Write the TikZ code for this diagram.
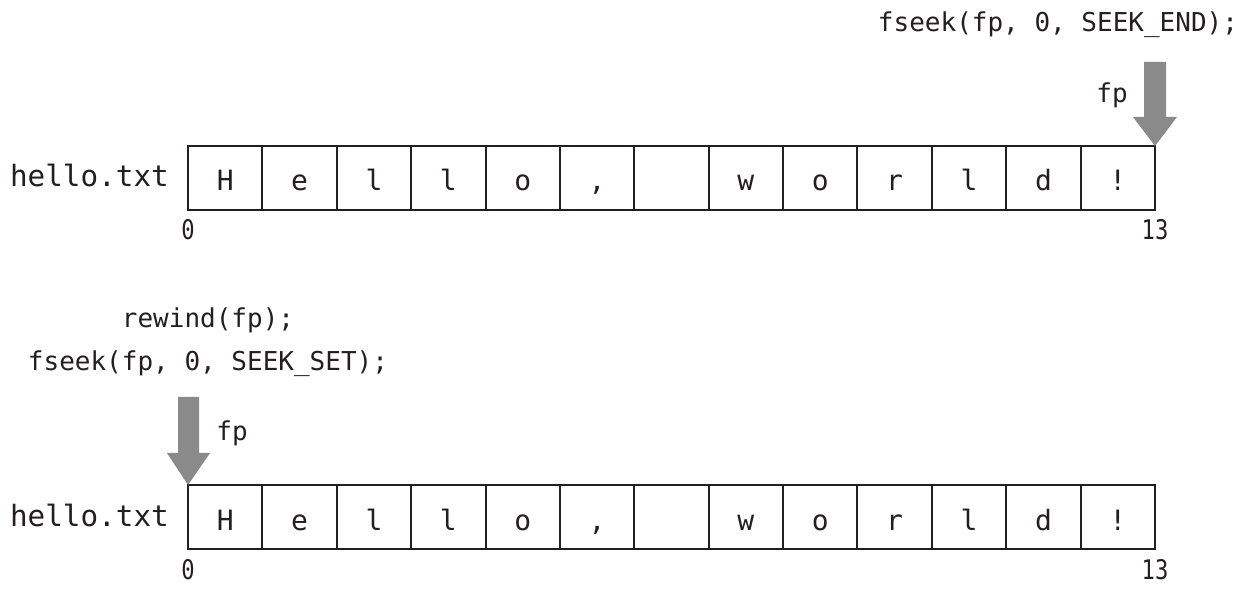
\documentclass[tikz,border=0pt]{standalone}
\usepackage{fontspec}
\setmonofont{DejaVu Sans Mono}
\newfontfamily\idxfont[FakeStretch=0.82]{DejaVu Sans Mono}
\usetikzlibrary{calc}
\definecolor{ink}{HTML}{231F20}
\definecolor{arrowgray}{HTML}{8A8A8A}
\tikzset{
  cell/.style={draw=ink, line width=2pt, minimum width=74.4pt, minimum height=64pt, inner sep=0pt, outer sep=0pt, anchor=north west},
  celltext/.style={font=\ttfamily\fontsize{28}{30}\selectfont, text=ink, anchor=base, inner sep=0pt},
  code/.style={font=\ttfamily\fontsize{26}{28}\selectfont, text=ink, anchor=base, inner sep=0pt},
  fname/.style={font=\ttfamily\fontsize{29.3}{31}\selectfont, text=ink, anchor=base east, inner sep=0pt},
  idx/.style={font=\idxfont\fontsize{27}{29}\selectfont, text=ink, anchor=base, inner sep=0pt},
  ptr/.style={fill=arrowgray, draw=none},
}
\begin{document}
\begin{tikzpicture}[x=1pt,y=-1pt]
\useasboundingbox (0,0) rectangle (1259,593);
% rows of cells
\foreach \r/\top in {1/146, 2/485} {
  \foreach \ch [count=\i] in {H,e,l,l,o,{,},{},w,o,r,l,d,!} {
    \node[cell] (r\r c\i) at ({188+(\i-1)*74.385},\top) {};
    \node[celltext] (t\r c\i) at ($(r\r c\i.center)+(0,13)$) {\ch};
  }
  \node[fname] (f\r) at ($(r\r c1.west)+(-19,9)$) {hello.txt};
  \node[idx] (z\r) at ($(r\r c1.south west)+(0,30)$) {0};
  \node[idx] (e\r) at ($(r\r c13.south east)+(0,30)$) {13};
}
% top: SEEK_END
\node[code] (seekend) at (1058,32) {fseek(fp, 0, SEEK\_END);};
\node[code] (fp1) at (1112,103) {fp};
\fill[ptr] (1144,62) -- (1166,62) -- (1166,117) -- (1177,117) -- (r1c13.north east) -- (1133,117) -- (1144,117) -- cycle;
% bottom: SEEK_SET
\node[code] (rew) at (208,328) {rewind(fp);};
\node[code] (seekset) at (208,371) {fseek(fp, 0, SEEK\_SET);};
\node[code] (fp2) at (232,441) {fp};
\fill[ptr] (178,397) -- (199,397) -- (199,453) -- (210,453) -- (r2c1.north west) -- (167,453) -- (178,453) -- cycle;
\end{tikzpicture}
\end{document}
